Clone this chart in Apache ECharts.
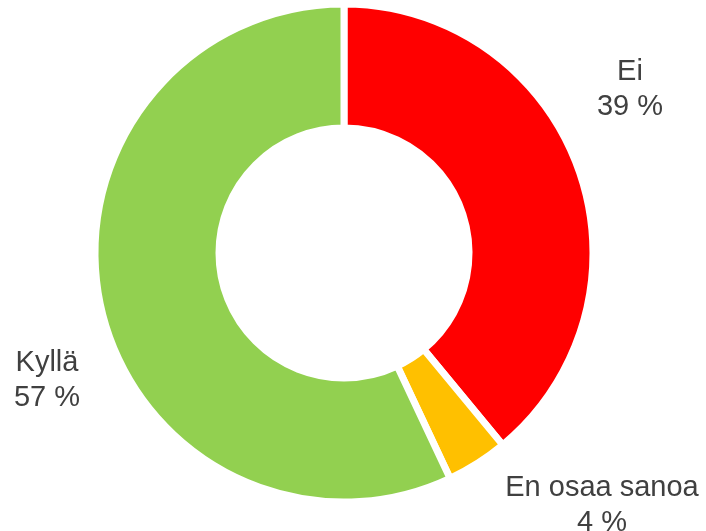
<!DOCTYPE html>
<html>
<head>
<meta charset="utf-8">
<script src="https://cdn.jsdelivr.net/npm/echarts@6/dist/echarts.min.js"></script>
<style>
  html, body { margin: 0; padding: 0; background: #fff; }
  #chart { width: 706px; height: 531px; }
</style>
</head>
<body>
<div id="chart"></div>
<script>
const names = ["Ei", "En osaa sanoa", "Kyllä"];
const values = [39, 4, 57];
const colors = ["#FF0000", "#FFC000", "#92D050"];
// label anchor points (label centres)
const labelPos = [[630, 89], [602, 505], [47, 380]];

const chart = echarts.init(document.getElementById("chart"));

const data = names.map((n, i) => ({
  name: n,
  value: values[i],
  itemStyle: { color: colors[i] }
}));

chart.setOption({
  animation: false,
  series: [
    {
      type: "pie",
      center: [344, 253],
      radius: [125, 249],
      startAngle: 90,
      clockwise: true,
      itemStyle: {
        borderColor: "#ffffff",
        borderWidth: 7
      },
      label: {
        show: true,
        position: "inside",
        formatter: p => p.name + "\n" + p.value + " %",
        color: "#404040",
        fontFamily: "Liberation Sans, Arial, sans-serif",
        fontSize: 29,
        lineHeight: 35,
        align: "center",
        overflow: "none"
      },
      labelLine: { show: false },
      labelLayout: params => ({
        x: labelPos[params.dataIndex][0],
        y: labelPos[params.dataIndex][1],
        align: "center",
        verticalAlign: "middle"
      }),
      emphasis: { disabled: true },
      data: data
    }
  ]
});
</script>
</body>
</html>
